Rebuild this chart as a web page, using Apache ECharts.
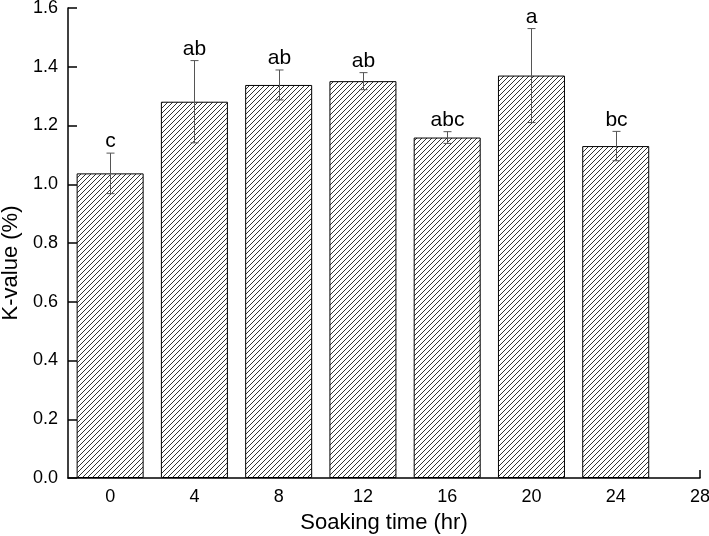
<!DOCTYPE html>
<html>
<head>
<meta charset="utf-8">
<script src="https://cdn.jsdelivr.net/npm/echarts@6/dist/echarts.min.js"></script>
<style>html,body{margin:0;padding:0;background:#fff}#c{width:709px;height:536px}</style>
</head>
<body>
<div id="c"></div>
<script>
const times = [0, 4, 8, 12, 16, 20, 24];
const kValue = [1.037, 1.281, 1.338, 1.351, 1.159, 1.370, 1.130];
const errors = [0.069, 0.140, 0.051, 0.029, 0.020, 0.160, 0.050];
const letters = ['c', 'ab', 'ab', 'ab', 'abc', 'a', 'bc'];
const xTicks = [0, 4, 8, 12, 16, 20, 24, 28];
const yTicks = [0, 0.2, 0.4, 0.6, 0.8, 1.0, 1.2, 1.4, 1.6];

const FONT = 'Liberation Sans, Arial, sans-serif';

// hatch pattern
const tile = document.createElement('canvas');
const S = 5;
tile.width = S; tile.height = S;
const tc = tile.getContext('2d');
tc.fillStyle = '#fff';
tc.fillRect(0, 0, S, S);
tc.fillStyle = '#333';
for (let i = 0; i < S; i++) tc.fillRect(i, S - 1 - i, 1, 1);

const barData = times.map((t, i) => [t, kValue[i]]);
const errData = times.map((t, i) => [t, kValue[i], errors[i]]);

const chart = echarts.init(document.getElementById('c'), null, {renderer: 'canvas'});
chart.setOption({
  animation: false,
  backgroundColor: '#fff',
  grid: {left: 68, right: 9, top: 8, bottom: 58, containLabel: false, outerBoundsMode: 'none'},
  xAxis: {
    type: 'value', min: -2, max: 28,
    name: 'Soaking time (hr)', nameLocation: 'middle', nameGap: 34,
    nameTextStyle: {fontFamily: FONT, fontSize: 22, color: '#000'},
    axisLine: {lineStyle: {color: '#000', width: 1.5}},
    axisTick: {inside: true, length: 8, customValues: xTicks, lineStyle: {color: '#000', width: 1.5}},
    axisLabel: {customValues: xTicks, margin: 10, fontFamily: FONT, fontSize: 18, color: '#000'},
    splitLine: {show: false}
  },
  yAxis: {
    type: 'value', min: 0, max: 1.6, interval: 0.2,
    axisLine: {show: true, onZero: false, lineStyle: {color: '#000', width: 1.5}},
    axisTick: {show: true, inside: true, length: 9, lineStyle: {color: '#000', width: 1.5}},
    axisLabel: {margin: 10, fontFamily: FONT, fontSize: 18, color: '#000',
      formatter: v => v.toFixed(1)},
    splitLine: {show: false}
  },
  graphic: [{
    type: 'text', x: 11, y: 263, rotation: Math.PI / 2,
    style: {text: 'K-value (%)', fontFamily: FONT, fontSize: 22, fill: '#000',
      textAlign: 'center', textVerticalAlign: 'middle'}
  }],
  series: [{
    type: 'bar',
    data: barData,
    barWidth: 67,
    itemStyle: {color: {image: tile, repeat: 'repeat'}, borderColor: '#000', borderWidth: 1},
    z: 2
  }, {
    type: 'custom',
    data: errData,
    z: 5,
    renderItem: function (params, api) {
      const x = api.value(0), y = api.value(1), e = api.value(2);
      const top = api.coord([x, y + e]);
      const bot = api.coord([x, y - e]);
      const cx = Math.round(top[0]) + 0.5;
      const st = {stroke: '#555', lineWidth: 1};
      return {
        type: 'group',
        children: [
          {type: 'line', shape: {x1: cx, y1: top[1], x2: cx, y2: bot[1]}, style: st},
          {type: 'line', shape: {x1: cx - 4, y1: top[1], x2: cx + 4, y2: top[1]}, style: st},
          {type: 'line', shape: {x1: cx - 4, y1: bot[1], x2: cx + 4, y2: bot[1]}, style: st},
          {type: 'text', x: cx, y: top[1] - 1,
            style: {text: letters[params.dataIndex], fontFamily: FONT, fontSize: 21, fill: '#000',
              textAlign: 'center', textVerticalAlign: 'bottom'}}
        ]
      };
    }
  }]
});
</script>
</body>
</html>
